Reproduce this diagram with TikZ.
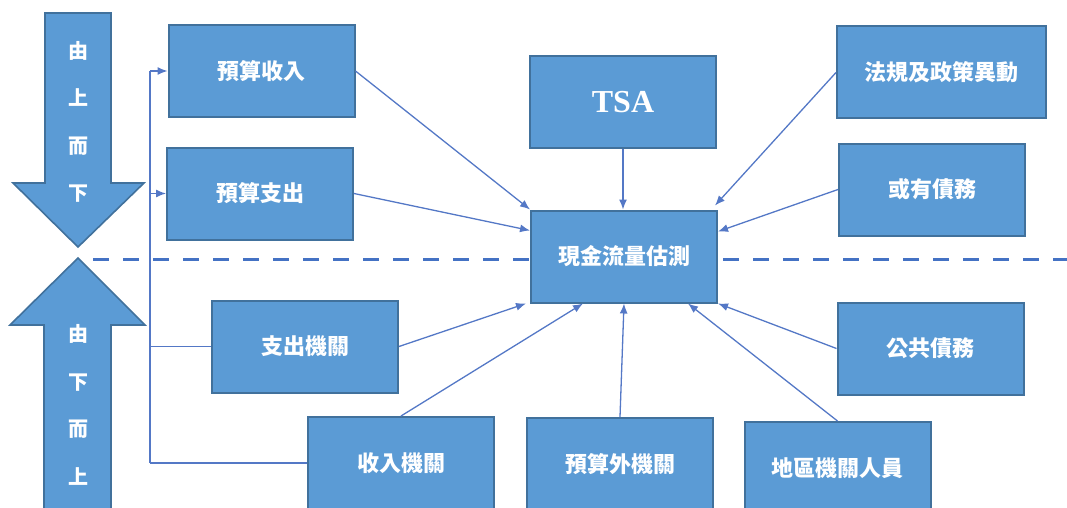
\documentclass[tikz,border=0pt]{standalone}
\usepackage{fontspec}
\setmainfont{Liberation Serif}
\newfontfamily\cjk{Noto Sans CJK TC}
\usetikzlibrary{arrows.meta,calc}
\definecolor{boxfill}{HTML}{5B9BD5}
\definecolor{boxline}{HTML}{41719C}
\definecolor{connc}{HTML}{5478C6}
\definecolor{dashc}{HTML}{4472C4}
\begin{document}
\begin{tikzpicture}[x=1pt,y=-1pt,
  box/.style={draw=boxline,line width=2pt,fill=boxfill,minimum width=186pt,minimum height=92pt,inner sep=0pt,text=white,font=\cjk\bfseries\fontsize{22}{26}\selectfont},
  conn/.style={draw=connc,line width=1.3pt},
  arr/.style={conn,-{Latex[length=10pt,width=8pt]}},
  bigarrow/.style={draw=boxline,line width=1.6pt,fill=boxfill,line join=miter},
  arrowtext/.style={text=white,align=center,inner sep=0pt,font=\cjk\bfseries\fontsize{20}{47.5}\selectfont}]
\useasboundingbox (0,0) rectangle (1067,508);
% dashed divider
\draw[dashc,line width=3pt,dash pattern=on 16pt off 14pt] (93,259) -- (1067,259);
% big block arrows
\draw[bigarrow] (45,13) -- (111,13) -- (111,183) -- (144,183) -- (78,247) -- (13,183) -- (45,183) -- cycle;
\draw[bigarrow] (44,515) -- (44,325) -- (10,325) -- (78,258) -- (145,325) -- (111,325) -- (111,515) -- cycle;
\node[arrowtext] (down) at (78,122) {由\\上\\而\\下};
\node[arrowtext] (up) at (78,405) {由\\下\\而\\上};
% boxes
\node[box] (r1) at (261.5,71) {預算收入};
\node[box] (r2) at (260,193.5) {預算支出};
\node[box] (e1) at (305,346.5) {支出機關};
\node[box] (e2) at (401,463) {收入機關};
\node[box,font=\rmfamily\bfseries\fontsize{32}{36}\selectfont] (tsa) at (623,102) {TSA};
\node[box] (cf) at (624,256.5) {現金流量估測};
\node[box,minimum width=209pt] (law) at (941.5,72.5) {法規及政策異動};
\node[box] (cont) at (932,189.5) {或有債務};
\node[box] (pub) at (930.5,348.5) {公共債務};
\node[box] (loc) at (837.5,468) {地區機關人員};
\node[box] (ob) at (620,464) {預算外機關};
% left tree
\coordinate (tr) at (150,0);
\draw[conn] (tr |- r1.west) -- (tr |- e2.west);
\draw[arr] (tr |- r1.west) -- (r1.west);
\draw[arr] (tr |- r2.west) -- (r2.west);
\draw[conn] (tr |- e1.west) -- (e1.west);
\draw[conn] (tr |- e2.west) -- (e2.west);
% connectors into cash flow forecast
\draw[arr] (r1.east) -- (cf.north west);
\draw[arr] (r2.east) -- ($(cf.north west)+(0,21)$);
\draw[arr] (tsa.south) -- (tsa.south |- cf.north);
\draw[arr] (law.west) -- ($(cf.north east)+(-3,-4)$);
\draw[arr] (cont.west) -- ($(cf.north east)+(0,22)$);
\draw[arr] (pub.west) -- (cf.south east);
\draw[arr] (loc.north) -- ($(cf.south)+(64,0)$);
\draw[arr] (ob.north) -- (cf.south);
\draw[arr] (e2.north) -- ($(cf.south)+(-41,0)$);
\draw[arr] (e1.east) -- ($(cf.south west)+(-4,0)$);
\end{tikzpicture}
\end{document}
